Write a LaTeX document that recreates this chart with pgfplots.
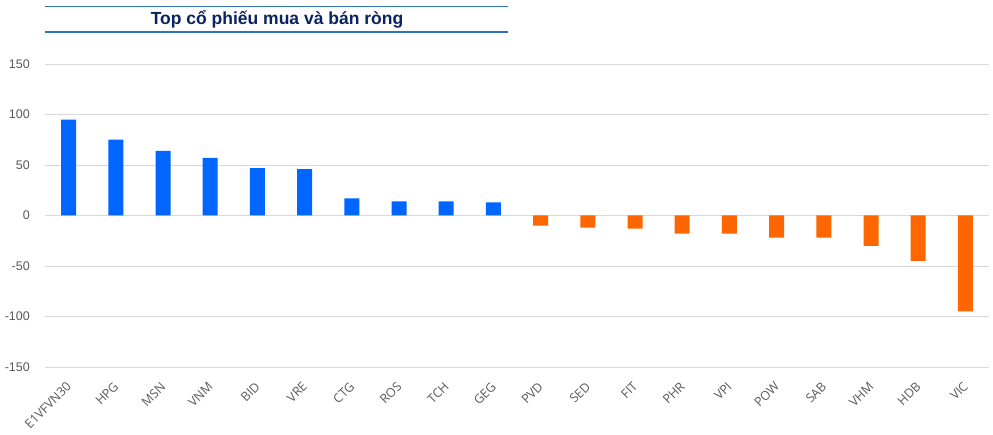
\documentclass[border=0pt]{standalone}
\usepackage{pgfplots}
\pgfplotsset{compat=1.18}
\usepackage{fontspec}
\setmainfont{Liberation Sans}
\newfontfamily\catfont{Open Sans}
\definecolor{barblue}{HTML}{0066FF}
\definecolor{barorange}{HTML}{FF6600}
\definecolor{gridgray}{HTML}{D9D9D9}
\definecolor{textgray}{HTML}{595959}
\definecolor{titlenavy}{HTML}{0B2260}
\definecolor{titleline}{HTML}{2E75B6}
\begin{document}
\begin{tikzpicture}
\path[use as bounding box] (0,0) rectangle (993bp,435bp);
\draw[titleline, line width=1.5bp] (45bp,428.5bp) -- (508bp,428.5bp);
\draw[titleline, line width=1.5bp] (45bp,403bp) -- (508bp,403bp);
\node[text=titlenavy, font=\fontsize{17.5bp}{19bp}\selectfont\bfseries, inner sep=0pt] at (277bp,415.5bp) {Top cổ phiếu mua và bán ròng};
\begin{axis}[
  at={(45bp,68bp)}, anchor=south west,
  width=944bp, height=303bp, scale only axis,
  xmin=-0.5, xmax=19.5, ymin=-150, ymax=150,
  ytick={-150,-100,...,150},
  xtick={0,...,19},
  xticklabels={E1VFVN30,HPG,MSN,VNM,BID,VRE,CTG,ROS,TCH,GEG,PVD,SED,FIT,PHR,VPI,POW,SAB,VHM,HDB,VIC},
  axis line style={draw=none},
  major tick length=0pt,
  ymajorgrids, grid style={gridgray, line width=0.8bp},
  yticklabel style={text=textgray, font=\fontsize{12.5bp}{14bp}\selectfont, inner sep=0pt, xshift=-15bp},
  xticklabel style={xshift=-3bp, yshift=-14bp, text=textgray, font=\catfont\fontsize{12.5bp}{14bp}\selectfont, rotate=45, anchor=north east, inner sep=0pt},
  /pgf/number format/assume math mode=true,
  ybar, bar width=15bp,
]
\addplot[fill=barblue, draw=none, bar shift=0pt] coordinates {
(0,95) (1,75) (2,64) (3,57) (4,47) (5,46) (6,17) (7,14) (8,14) (9,13)};
\addplot[fill=barorange, draw=none, bar shift=0pt] coordinates {
(10,-10) (11,-12) (12,-13) (13,-18) (14,-18) (15,-22) (16,-22) (17,-30) (18,-45) (19,-95)};
\end{axis}
\end{tikzpicture}
\end{document}
